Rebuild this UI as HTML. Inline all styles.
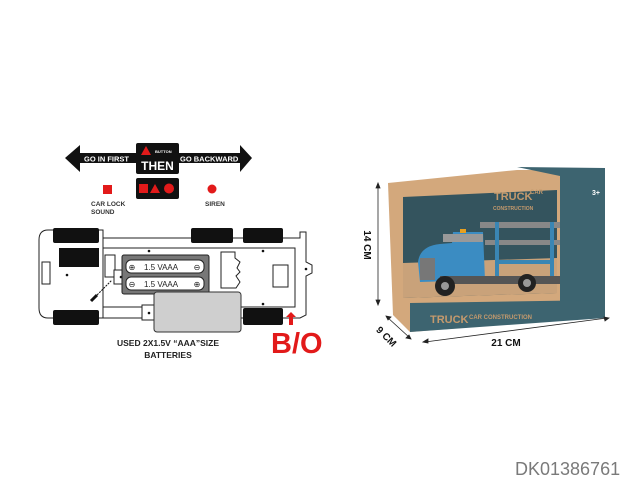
<!DOCTYPE html>
<html><head><meta charset="utf-8"><style>
html,body{margin:0;padding:0;background:#fff;width:640px;height:480px;overflow:hidden}
svg{display:block}
text{font-family:"Liberation Sans",sans-serif;font-weight:bold}
</style></head><body>
<svg width="640" height="480" viewBox="0 0 640 480" xmlns="http://www.w3.org/2000/svg">
<polygon points="65,158 80,145 80,153 240,153 240,145 252,158 240,172 240,163 80,163 80,172" fill="#111"/>
<text x="84" y="161.5" font-size="7.5" fill="#fff">GO IN FIRST</text>
<text x="180" y="161.5" font-size="7.5" fill="#fff">GO BACKWARD</text>
<rect x="136" y="143" width="43" height="31" rx="2" fill="#111"/>
<polygon points="146,146 151,155 141,155" fill="#e21a1a"/>
<text x="155" y="153" font-size="4" fill="#fff">BUTTON</text>
<text x="157.5" y="170" font-size="12" fill="#fff" text-anchor="middle">THEN</text>
<rect x="136" y="178" width="43" height="21" rx="2" fill="#111"/>
<rect x="139" y="184" width="9" height="9" fill="#e21a1a"/>
<polygon points="155,184 160,193 150,193" fill="#e21a1a"/>
<circle cx="169" cy="188.5" r="5" fill="#e21a1a"/>
<rect x="103" y="185" width="9" height="9" fill="#e21a1a"/>
<text x="91" y="206" font-size="6.5" fill="#333">CAR LOCK</text>
<text x="91" y="214" font-size="6.5" fill="#333">SOUND</text>
<circle cx="212" cy="189" r="4.5" fill="#e21a1a"/>
<text x="205" y="206" font-size="6.5" fill="#333">SIREN</text>
<g stroke="#222" stroke-width="1" fill="#fff">
<path d="M103,238 L300,238 L300,232 L306,232 L306,262 L312,265 L312,273 L306,276 L306,315 L300,318 L103,318 Z"/>
<rect x="103" y="248" width="192" height="59"/>
<path d="M48,230 L103,230 L103,318 L48,318 Q39,318 39,308 L39,240 Q39,230 48,230 Z"/>
<rect x="42" y="262" width="8" height="22"/>
<rect x="105" y="255" width="10" height="22" />
<path d="M221,252 L235,252 L235,258 L240,262 L237,268 L240,272 L236,276 L240,282 L236,288 L221,288 Z"/>
<rect x="273" y="265" width="15" height="22"/>
<rect x="114" y="270" width="14" height="14"/>
<rect x="142" y="305" width="14" height="15"/>
</g>
<rect x="53" y="228" width="46" height="15" rx="2" fill="#111"/>
<rect x="59" y="248" width="40" height="19" fill="#111"/>
<rect x="191" y="228" width="42" height="15" rx="2" fill="#111"/>
<rect x="243" y="228" width="40" height="15" rx="2" fill="#111"/>
<rect x="53" y="310" width="46" height="15" rx="2" fill="#111"/>
<rect x="243" y="308" width="40" height="17" rx="2" fill="#111"/>
<g fill="#111"><circle cx="149" cy="251" r="1.3"/><circle cx="263" cy="251" r="1.3"/><circle cx="263" cy="304" r="1.3"/><circle cx="149" cy="313" r="1.3"/><circle cx="121" cy="277" r="1.3"/><circle cx="306" cy="269" r="1.3"/><circle cx="67" cy="275" r="1.3"/></g>
<line x1="95" y1="297" x2="112" y2="280" stroke="#111" stroke-width="1" stroke-dasharray="2,1"/>
<line x1="91" y1="301" x2="97" y2="295" stroke="#111" stroke-width="3"/>
<rect x="122" y="255" width="87" height="39" rx="2" fill="#777" stroke="#222"/>
<rect x="126" y="260" width="78" height="13" rx="5" fill="#fff" stroke="#222"/>
<rect x="126" y="277" width="78" height="13" rx="5" fill="#fff" stroke="#222"/>
<text x="144" y="270" font-size="8" fill="#222" style="font-weight:normal">1.5  VAAA</text>
<text x="144" y="287" font-size="8" fill="#222" style="font-weight:normal">1.5  VAAA</text>
<text x="132" y="270" font-size="8" fill="#222" text-anchor="middle" style="font-weight:normal">⊕</text>
<text x="197" y="270" font-size="8" fill="#222" text-anchor="middle" style="font-weight:normal">⊖</text>
<text x="132" y="287" font-size="8" fill="#222" text-anchor="middle" style="font-weight:normal">⊖</text>
<text x="197" y="287" font-size="8" fill="#222" text-anchor="middle" style="font-weight:normal">⊕</text>
<rect x="154" y="292" width="87" height="40" rx="3" fill="#cfcfcf" stroke="#333"/>
<polygon points="291,312 296,317 293,317 293,325 289,325 289,317 286,317" fill="#e21a1a"/>
<text x="271" y="353" font-size="29" fill="#e21a1a">B/O</text>
<text x="168" y="346" font-size="8.5" fill="#222" text-anchor="middle">USED 2X1.5V “AAA”SIZE</text>
<text x="168" y="358" font-size="8.5" fill="#222" text-anchor="middle">BATTERIES</text>
<!-- box -->
<polygon points="388,183 517,170 605,170 605,317 410,332 393,315" fill="#d3a87c"/>
<polygon points="517,167 605,168 605,317 560,317 560,176" fill="#3d6470"/>
<polygon points="403,197 557,190 557,293 403,298" fill="#34545e"/>
<polygon points="410,303 605,300 605,318 410,332" fill="#3d6470"/>
<polygon points="403,263 557,258 557,293 403,298" fill="#c9a27a"/>
<text x="494" y="200" font-size="11" fill="#c59a6d">TRUCK</text>
<text x="530" y="194" font-size="6" fill="#c59a6d">CAR</text>
<text x="493" y="210" font-size="5" fill="#c59a6d">CONSTRUCTION</text>
<text x="430" y="323" font-size="11" fill="#c59a6d">TRUCK</text>
<text x="469" y="319" font-size="6" fill="#c59a6d">CAR CONSTRUCTION</text>
<text x="592" y="195" font-size="7" fill="#fff">3+</text>
<!-- truck -->
<rect x="480" y="222" width="80" height="6" fill="#888"/>
<rect x="485" y="240" width="75" height="5" fill="#888"/>
<g stroke="#3a86b4" stroke-width="4" fill="none">
<line x1="497" y1="222" x2="497" y2="280"/>
<line x1="552" y1="222" x2="552" y2="278"/>
<line x1="497" y1="262" x2="552" y2="262"/>
</g>
<path d="M418,262 Q420,246 440,244 L452,243 L453,232 L483,232 L485,280 L420,282 Z" fill="#3b8cc2"/>
<rect x="443" y="234" width="40" height="8" fill="#999"/>
<rect x="420" y="258" width="15" height="22" fill="#777"/>
<rect x="440" y="276" width="120" height="8" fill="#555"/>
<circle cx="445" cy="286" r="10" fill="#222"/><circle cx="445" cy="286" r="4" fill="#999"/>
<circle cx="527" cy="283" r="9" fill="#222"/><circle cx="527" cy="283" r="4" fill="#999"/>
<rect x="460" y="229" width="6" height="4" fill="#e8a020"/>
<g stroke="#222" stroke-width="0.8" fill="#222">
<line x1="378" y1="185" x2="378" y2="303"/>
<polygon points="378,183 376,188 380,188"/><polygon points="378,305 376,300 380,300"/>
<line x1="387" y1="317" x2="410" y2="338"/>
<polygon points="386,316 391,317 388,320"/><polygon points="411,339 406,338 409,335"/>
<line x1="425" y1="342" x2="607" y2="318"/>
<polygon points="423,342 428,339 428,343"/><polygon points="609,318 604,317 605,321"/>
</g>
<text transform="translate(364,245) rotate(90)" font-size="10" fill="#111" text-anchor="middle">14 CM</text>
<text transform="translate(384,339) rotate(45)" font-size="10" fill="#111" text-anchor="middle">9 CM</text>
<text x="506" y="346" font-size="10" fill="#111" text-anchor="middle">21 CM</text>
<text x="515" y="475" font-size="18" fill="#7a7a7a" style="font-weight:normal">DK01386761</text>
</svg>
</body></html>
